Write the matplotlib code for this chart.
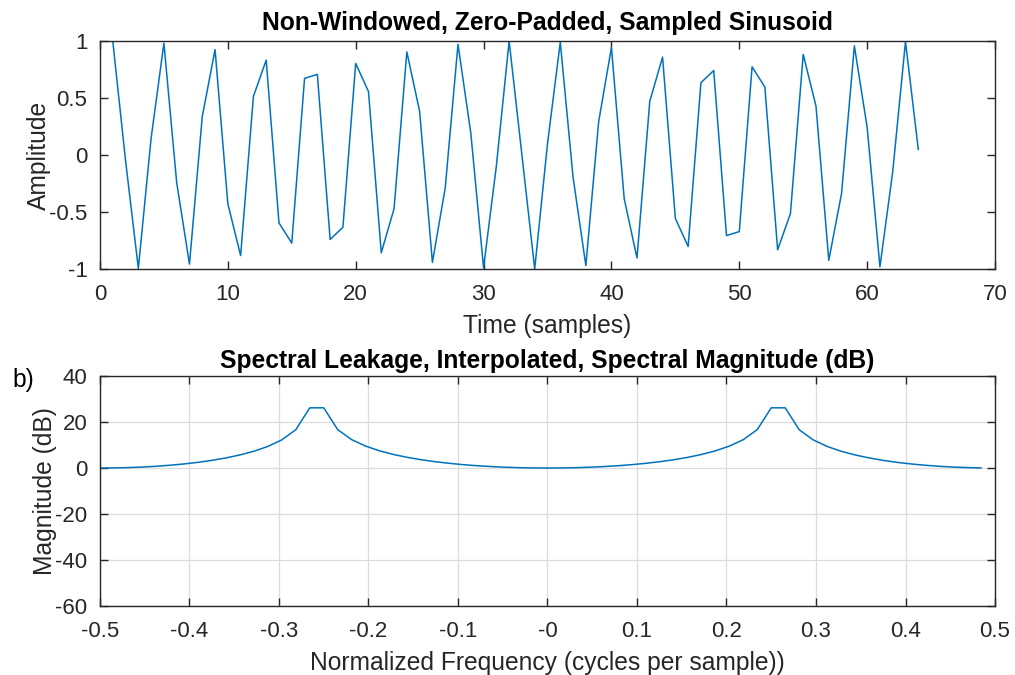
import numpy as np
import matplotlib
matplotlib.use("Agg")
import matplotlib.pyplot as plt
from matplotlib.ticker import FuncFormatter

plt.rcParams['font.family'] = ['Liberation Sans', 'DejaVu Sans']
plt.rcParams['axes.unicode_minus'] = False

samples = list(range(1, 65))
amplitude = [
    1.0, -0.049, -0.995, 0.147, 0.981, -0.243, -0.957, 0.337,
    0.924, -0.428, -0.882, 0.514, 0.832, -0.596, -0.773, 0.672,
    0.707, -0.741, -0.634, 0.803, 0.556, -0.858, -0.471, 0.904,
    0.383, -0.942, -0.290, 0.970, 0.195, -0.989, -0.098, 0.999,
    0.0, -0.999, 0.098, 0.989, -0.195, -0.970, 0.290, 0.942,
    -0.383, -0.904, 0.471, 0.858, -0.556, -0.803, 0.634, 0.741,
    -0.707, -0.672, 0.773, 0.596, -0.832, -0.514, 0.882, 0.428,
    -0.924, -0.337, 0.957, 0.243, -0.981, -0.147, 0.995, 0.049,
]

# normalized frequency bins (-32..31)/64 and magnitude in dB (bottom panel)
bins = list(range(-32, 32))
mag_db = [
    0.00, 0.05, 0.19, 0.42, 0.76, 1.21, 1.77, 2.47,
    3.33, 4.39, 5.68, 7.29, 9.38, 12.24, 16.64, 26.17,
    26.19, 16.70, 12.34, 9.52, 7.47, 5.88, 4.61, 3.58,
    2.73, 2.03, 1.45, 0.99, 0.63, 0.35, 0.15, 0.04,
    0.00, 0.04, 0.15, 0.35, 0.63, 0.99, 1.45, 2.03,
    2.73, 3.58, 4.61, 5.88, 7.47, 9.52, 12.34, 16.70,
    26.19, 26.17, 16.64, 12.24, 9.38, 7.29, 5.68, 4.39,
    3.33, 2.47, 1.77, 1.21, 0.76, 0.42, 0.19, 0.05,
]
freq = [b / 64 for b in bins]

line_col = '#0072BD'
ax_col = '#262626'
tick_fs = 16
lab_fs = 17.7

fig = plt.figure(figsize=(10.15, 6.75), dpi=100)
ax1 = fig.add_axes([0.0985, 0.6015, 0.8818, 0.3378])
ax2 = fig.add_axes([0.0985, 0.1022, 0.8818, 0.3407])


def style(ax):
    for s in ax.spines.values():
        s.set_color(ax_col)
        s.set_linewidth(1.0)
    ax.tick_params(direction='in', length=6, width=1.0, colors=ax_col,
                   labelsize=tick_fs, top=True, right=True)
    ax.tick_params(axis='x', pad=11)
    ax.tick_params(axis='y', pad=9)


ax1.plot(samples, amplitude, color=line_col, lw=1.1)
ax1.set_xlim(0, 70)
ax1.set_ylim(-1, 1)
ax1.set_xticks(range(0, 71, 10))
ax1.set_yticks([-1, -0.5, 0, 0.5, 1])
ax1.yaxis.set_major_formatter(FuncFormatter(lambda v, p: f"{v:g}"))
ax1.set_xlabel("Time (samples)", fontsize=lab_fs, color=ax_col, labelpad=6)
ax1.set_ylabel("Amplitude", fontsize=lab_fs, color=ax_col, labelpad=-1)
ax1.set_title("Non-Windowed, Zero-Padded, Sampled Sinusoid",
              fontsize=lab_fs, fontweight='bold', pad=8)
style(ax1)

ax2.plot(freq, mag_db, color=line_col, lw=1.1)
ax2.set_xlim(-0.5, 0.5)
ax2.set_ylim(-60, 40)
ax2.set_xticks(np.round(np.arange(-0.5, 0.51, 0.1), 1))
ax2.set_yticks(range(-60, 41, 20))
ax2.xaxis.set_major_formatter(FuncFormatter(lambda v, p: f"{v:g}"))
ax2.grid(True, color='#dcdcdc', lw=0.9)
ax2.set_axisbelow(True)
ax2.set_xlabel("Normalized Frequency (cycles per sample))",
               fontsize=lab_fs, color=ax_col, labelpad=6)
ax2.set_ylabel("Magnitude (dB)", fontsize=lab_fs, color=ax_col, labelpad=-1)
ax2.set_title("Spectral Leakage, Interpolated, Spectral Magnitude (dB)",
              fontsize=lab_fs, fontweight='bold', pad=6)
style(ax2)

fig.text(0.012, 0.437, "b)", fontsize=lab_fs, color='black', va='center')

fig.savefig("out.png", dpi=100)
